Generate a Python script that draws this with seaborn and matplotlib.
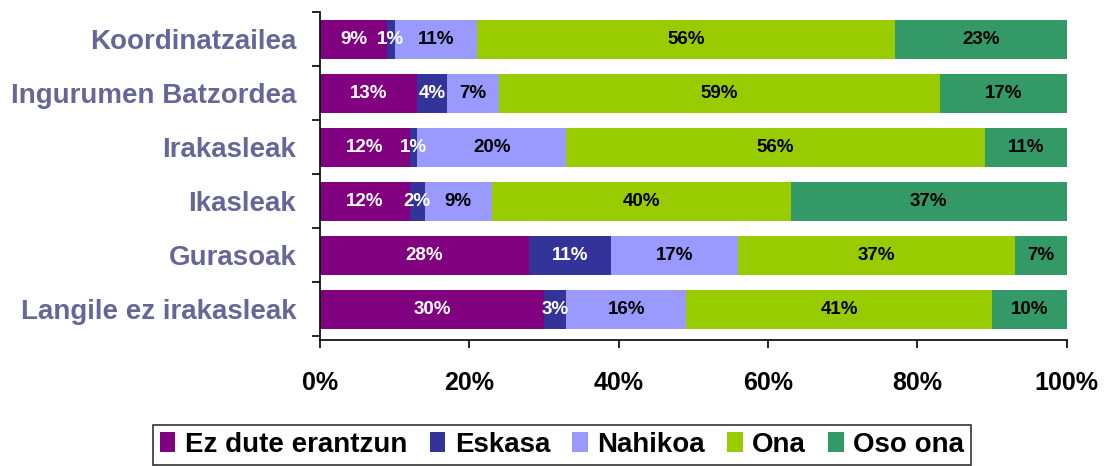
"""Stacked horizontal bar chart of satisfaction ratings by group."""

import matplotlib
matplotlib.use("Agg")
import matplotlib.pyplot as plt
import pandas as pd
import seaborn as sns
from matplotlib.patches import Patch
from matplotlib.ticker import FixedLocator, PercentFormatter

GROUPS = [
    "Koordinatzailea",
    "Ingurumen Batzordea",
    "Irakasleak",
    "Ikasleak",
    "Gurasoak",
    "Langile ez irakasleak",
]
SERIES = ["Ez dute erantzun", "Eskasa", "Nahikoa", "Ona", "Oso ona"]
EZ_DUTE = [9, 13, 12, 12, 28, 30]
ESKASA = [1, 4, 1, 2, 11, 3]
NAHIKOA = [11, 7, 20, 9, 17, 16]
ONA = [56, 59, 56, 40, 37, 41]
OSO_ONA = [23, 17, 11, 37, 7, 10]

COLORS = ["#800080", "#333399", "#9999FF", "#99CC00", "#339966"]
TEXT_COLORS = ["white", "white", "black", "black", "black"]
LABEL_COLOR = "#666699"

sns.set_style("white")
plt.rcParams["font.family"] = ["Liberation Sans", "DejaVu Sans"]
plt.rcParams["text.color"] = "black"
plt.rcParams["xtick.color"] = "black"
plt.rcParams["ytick.color"] = "black"

df = pd.DataFrame(
    {"group": GROUPS, SERIES[0]: EZ_DUTE, SERIES[1]: ESKASA, SERIES[2]: NAHIKOA,
     SERIES[3]: ONA, SERIES[4]: OSO_ONA}
)
cum = df[SERIES].cumsum(axis=1)

fig = plt.figure(figsize=(11.09, 4.66), dpi=100)
ax = fig.add_axes([0.2885, 0.27, 0.6735, 0.704])

# draw the cumulative totals from longest to shortest so they stack
for i in range(len(SERIES) - 1, -1, -1):
    sns.barplot(
        x=cum[SERIES[i]], y=df["group"], orient="h", color=COLORS[i],
        saturation=1, width=0.72, ax=ax, linewidth=0,
    )

for i, name in enumerate(SERIES):
    starts = cum[name] - df[name]
    for row, (s, v) in enumerate(zip(starts, df[name])):
        ax.text(s + v / 2, row, f"{v}%", ha="center", va="center",
                color=TEXT_COLORS[i], fontsize=13.5, fontweight="bold")

ax.set_xlim(0, 100)
ax.set_ylim(5.57, -0.5)
ax.xaxis.set_major_locator(FixedLocator([0, 20, 40, 60, 80, 100]))
ax.xaxis.set_major_formatter(PercentFormatter(decimals=0))
ax.set_xlabel("")
ax.set_ylabel("")
for spine in ["top", "right"]:
    ax.spines[spine].set_visible(False)
for spine in ["left", "bottom"]:
    ax.spines[spine].set_color("black")
    ax.spines[spine].set_linewidth(1.2)

ax.tick_params(axis="x", which="major", direction="out", length=6, width=1.2,
               labelsize=18, pad=16, bottom=True, labelcolor="black")
ax.tick_params(axis="y", which="major", length=0, pad=17, labelsize=20,
               labelcolor=LABEL_COLOR)
ax.yaxis.set_minor_locator(FixedLocator([r - 0.5 for r in range(len(GROUPS) + 1)]))
ax.tick_params(axis="y", which="minor", direction="out", length=6, width=1.2, left=True)
for lab in ax.get_xticklabels() + ax.get_yticklabels():
    lab.set_fontweight("bold")

handles = [Patch(facecolor=c, edgecolor="none") for c in COLORS]
leg = fig.legend(
    handles, SERIES, loc="lower center", bbox_to_anchor=(0.507, 0.0), ncol=5,
    frameon=True, fancybox=False, prop={"weight": "bold", "size": 20},
    handlelength=0.55, handleheight=0.7, handletextpad=0.35, columnspacing=0.8,
    borderpad=0.25, borderaxespad=0.05, edgecolor="black",
)
leg.get_frame().set_linewidth(1.2)
for t in leg.get_texts():
    t.set_color("black")

fig.savefig("out.png", dpi=100)
